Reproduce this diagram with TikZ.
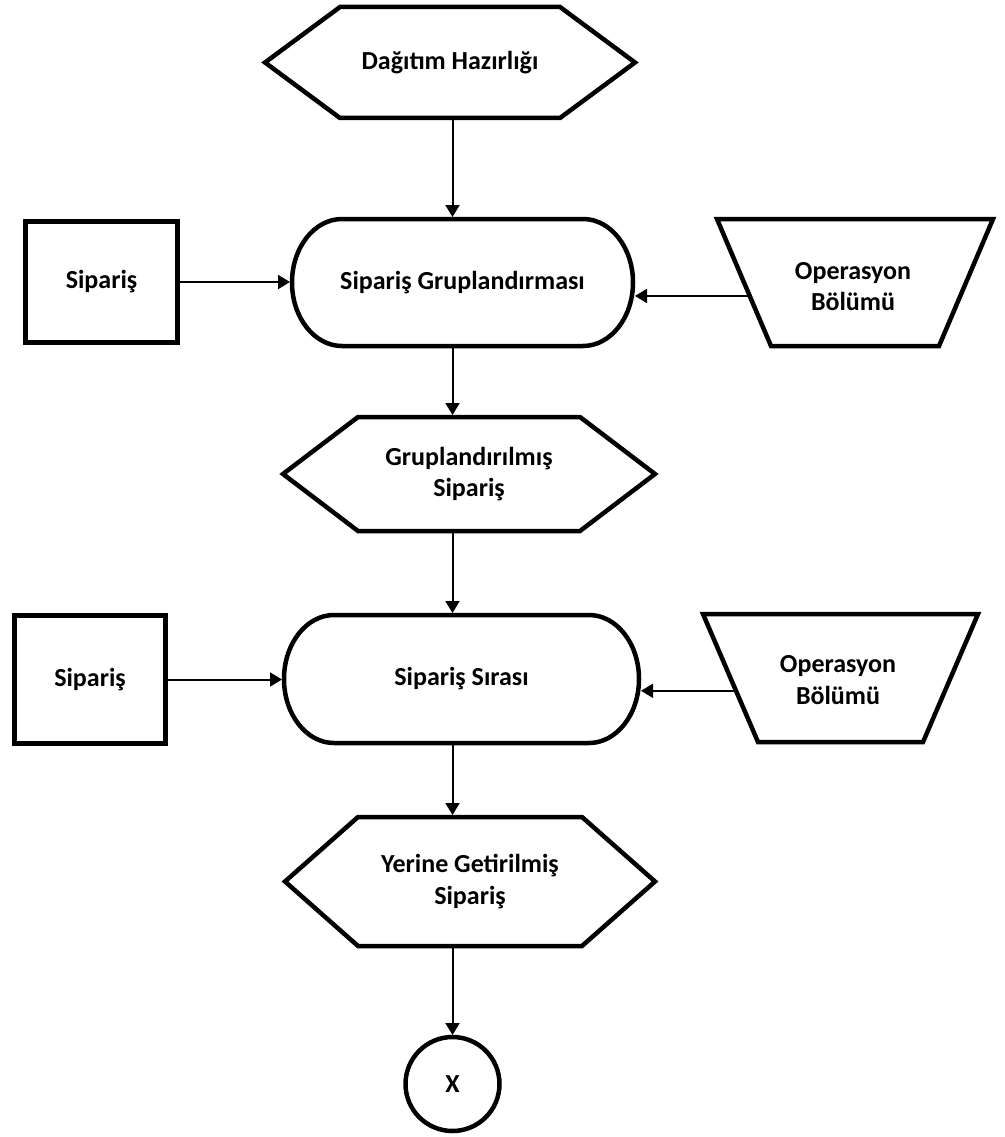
\documentclass[tikz,border=0pt]{standalone}
\usepackage{fontspec}
\setmainfont{Carlito}
\usetikzlibrary{arrows.meta,calc}
\newcommand\myhex[2]{\draw[shp] (#1.west) -- ($(#1.north west)+(#2,0)$) -- ($(#1.north east)+(-#2,0)$) -- (#1.east) -- ($(#1.south east)+(-#2,0)$) -- ($(#1.south west)+(#2,0)$) -- cycle;}
\newcommand\mystad[3]{\draw[shp] ($(#1.north west)+(#2,0)$) -- ($(#1.north east)+(-#2,0)$) arc[start angle=90,end angle=-90,x radius=#2pt,y radius=#3pt] -- ($(#1.south west)+(#2,0)$) arc[start angle=270,end angle=90,x radius=#2pt,y radius=#3pt] -- cycle;}
\newcommand\mytrap[2]{\draw[shp] (#1.north west) -- (#1.north east) -- ($(#1.south east)+(-#2,0)$) -- ($(#1.south west)+(#2,0)$) -- cycle;}
\begin{document}
\begin{tikzpicture}[x=1pt,y=1pt,
  shp/.style={line width=4.5pt, line join=miter},
  lbl/.style={font=\fontsize{26}{31.5}\selectfont\bfseries, align=center, inner sep=0pt, outer sep=0pt},
  boxnode/.style={lbl, draw, shp, rectangle},
  arr/.style={line width=2pt, -{Triangle[length=12pt,width=14pt]}, shorten >=2pt},
]
\useasboundingbox[fill=white] (0,0) rectangle (1004,-1137);
\coordinate (axis) at (452.5,0);

% hexagons
\node[lbl, minimum width=370pt, minimum height=111pt] (h1) at (450,-62.5) {Dağıtım Hazırlığı};
\myhex{h1}{75}
\node[lbl, minimum width=372pt, minimum height=114pt] (h2) at (469,-474) {Gruplandırılmış\\Sipariş};
\myhex{h2}{75}
\node[lbl, minimum width=370pt, minimum height=129pt] (h3) at (470,-881.5) {Yerine Getirilmiş\\Sipariş};
\myhex{h3}{73}

% processes
\node[lbl, minimum width=341pt, minimum height=127pt] (p1) at (462.5,-282.5) {Sipariş Gruplandırması};
\mystad{p1}{50}{63.5}
\node[lbl, minimum width=355pt, minimum height=128pt] (p2) at (461.5,-679) {Sipariş Sırası};
\mystad{p2}{50}{64}

% boxes
\node[boxnode, minimum width=152pt, minimum height=121pt] (b1) at (101.5,-282) {Sipariş};
\node[boxnode, minimum width=151pt, minimum height=128pt] (b2) at (90,-679.5) {Sipariş};

% trapezoids
\node[lbl, minimum width=276pt, minimum height=127pt] (t1) at (855,-282.5) {};
\mytrap{t1}{54}
\node[lbl] (t1txt) at (853,-286.5) {Operasyon\\Bölümü};
\node[lbl, minimum width=275pt, minimum height=128pt] (t2) at (840.5,-678) {};
\mytrap{t2}{55}
\node[lbl] (t2txt) at (838,-680) {Operasyon\\Bölümü};

% end circle
\node[lbl, draw, circle, line width=4.5pt, minimum size=94pt] (c) at (452.5,-1084) {X};

% connectors
\draw[arr] (axis |- h1.south) -- (axis |- p1.north);
\draw[arr] (axis |- p1.south) -- (axis |- h2.north);
\draw[arr] (axis |- h2.south) -- (axis |- p2.north);
\draw[arr] (axis |- p2.south) -- (axis |- h3.north);
\draw[arr] (axis |- h3.south) -- (c.north);
\draw[arr] (b1.east) -- (b1.east -| p1.west);
\draw[arr] (b2.east) -- (b2.east -| p2.west);
\coordinate (t1bl) at ($(t1.south west)+(54,0)$);
\coordinate (t1a) at ($(t1.north west)!0.606!(t1bl)$);
\draw[arr] (t1a) -- (t1a -| p1.east);
\coordinate (t2bl) at ($(t2.south west)+(55,0)$);
\coordinate (t2a) at ($(t2.north west)!0.60!(t2bl)$);
\draw[arr] (t2a) -- (t2a -| p2.east);
\end{tikzpicture}
\end{document}
